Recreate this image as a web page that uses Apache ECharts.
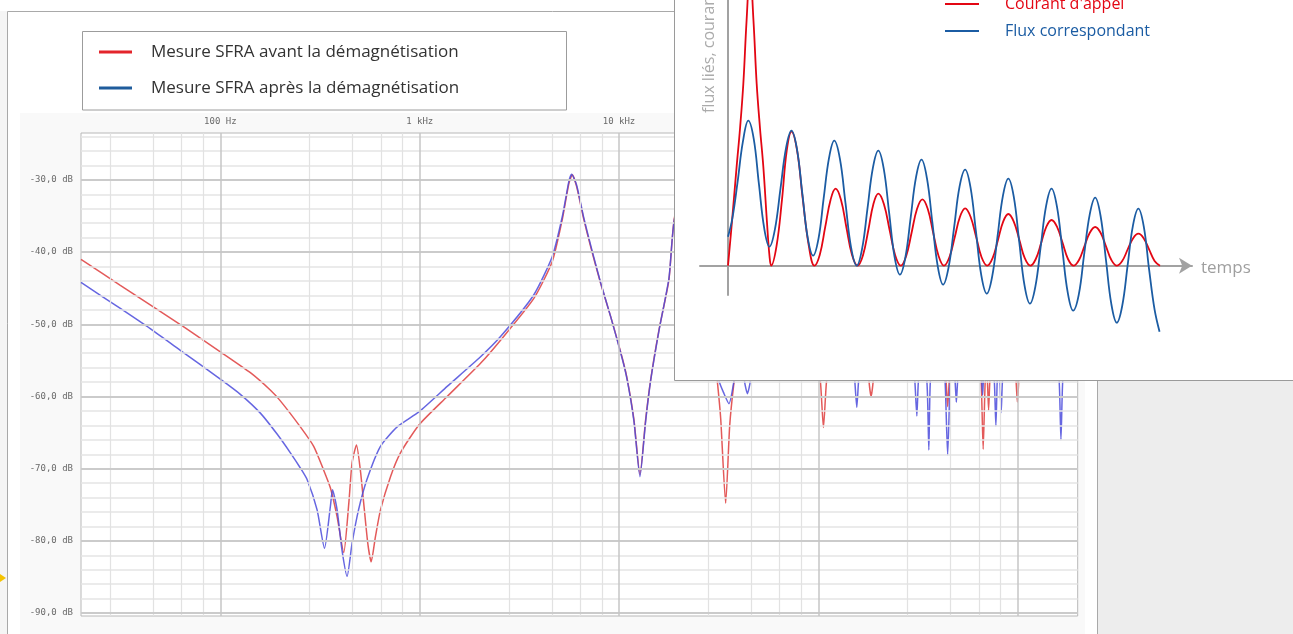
<!DOCTYPE html>
<html>
<head>
<meta charset="utf-8">
<script src="https://cdn.jsdelivr.net/npm/echarts@6/dist/echarts.min.js"></script>
<style>
  html, body { margin: 0; padding: 0; background: #fff; }
  #chart { width: 1293px; height: 634px; }
</style>
</head>
<body>
<div id="chart"></div>
<script>
// SFRA magnitude (frequency in Hz, level in dB) before demagnetisation
const sfraAvant = [
  [20,-41.0],[31.5,-44.6],[44.5,-47.3],[66.7,-50.5],[100,-53.8],[141.5,-56.7],[178,-59.1],[200,-60.6],
  [252,-64.2],[294,-66.9],[330,-70.2],[357,-72.7],[385,-76.6],[416,-81.6],[441,-74.8],[458,-69.2],
  [482,-66.7],[504,-70.2],[524,-74.8],[549,-80.3],[571,-82.9],[600,-79.4],[636,-75.7],[714,-71.1],
  [801,-67.8],[994,-63.9],[1374,-60.0],[2020,-55.4],[2545,-52.2],[3740,-46.4],[4626,-41.3],[5192,-35.5],
  [5604,-30.5],[5830,-29.3],[6126,-30.9],[6664,-35.5],[7342,-40.1],[8083,-44.3],[9074,-48.9],[10390,-54.7],
  [11010,-57.7],[11880,-63.2],[12735,-70.8],[13604,-63.2],[14411,-57.7],[15862,-50.8],[17806,-43.8],[19013,-35.1],
  [21594,-32.5],[24809,-38.0],[27538,-46.0],[29512,-52.0],[31160,-58.0],[32360,-63.0],[34280,-74.8],[35920,-64.0],
  [37750,-58.0],[40780,-51.0],[51380,-46.0],[72680,-45.0],[93740,-50.0],[102450,-58.0],[106070,-64.3],[109810,-58.0],
  [119500,-50.0],[145460,-48.0],[171000,-50.0],[179700,-58.0],[183900,-60.0],[188200,-58.0],[198700,-50.0],[290970,-47.0],
  [420300,-51.0],[437700,-58.0],[445300,-61.4],[453100,-58.0],[471800,-51.0],[624200,-51.0],[655900,-58.0],[671200,-67.3],
  [686900,-58.0],[699700,-56.0],[714500,-61.9],[724400,-58.0],[759600,-51.0],[933000,-51.0],[982000,-58.0],[996600,-60.8],
  [1011600,-58.0],[1059500,-51.0],[2000000,-50.0]
];

// SFRA magnitude after demagnetisation
const sfraApres = [
  [20,-44.2],[31.5,-47.8],[44.5,-50.6],[63,-53.6],[100,-57.6],[126,-59.7],[158.8,-62.3],[192.6,-65.2],
  [224.6,-67.8],[252,-69.9],[272.4,-71.5],[305.8,-75.7],[333.1,-81.0],[356.6,-75.2],[365.3,-72.9],
  [385.3,-75.7],[407.3,-81.2],[432.5,-84.9],[458.2,-80.3],[493.5,-75.7],[543.8,-71.5],[635.8,-66.9],[771.2,-64.2],
  [994,-62.1],[1374,-58.6],[2020,-54.5],[2545,-51.7],[3740,-45.9],[4626,-40.6],[5192,-35.1],[5604,-30.2],
  [5783,-29.2],[6126,-30.7],[6664,-35.3],[7342,-39.9],[8083,-44.2],[9074,-48.9],[10390,-54.8],[11010,-57.8],
  [11880,-63.4],[12735,-71.1],[13604,-63.4],[14411,-57.8],[15862,-50.9],[17806,-43.6],[19013,-35.3],[21594,-32.8],
  [24809,-38.5],[28180,-47.0],[29512,-51.0],[31730,-57.8],[33510,-59.5],[35620,-61.0],[37750,-57.8],[39850,-53.0],
  [41260,-53.0],[42560,-57.8],[44070,-59.6],[45620,-57.8],[47400,-52.0],[72680,-46.0],[145460,-50.0],[152500,-58.0],
  [155900,-61.5],[158950,-58.0],[167100,-50.0],[244700,-47.0],[290970,-51.0],[305100,-58.0],[311900,-62.7],[317400,-58.0],
  [329700,-54.0],[350500,-58.0],[358300,-67.4],[364500,-58.0],[387600,-52.0],[415500,-52.0],[432500,-58.0],[445300,-68.1],
  [458300,-58.0],[471800,-54.0],[485600,-58.0],[492300,-60.8],[499300,-58.0],[529700,-50.0],[631400,-51.0],[659000,-57.5],
  [666600,-59.8],[674300,-57.5],[708700,-53.0],[733800,-52.0],[763900,-58.0],[777400,-64.1],[789100,-58.0],[803000,-55.0],
  [815100,-58.0],[826400,-62.2],[837900,-58.0],[882700,-51.0],[1165000,-48.0],[1537000,-51.0],[1616000,-58.0],[1648000,-66.0],
  [1681000,-58.0],[1766000,-51.0],[2000000,-50.0]
];

// Inrush current and corresponding flux (time in periods, arbitrary amplitude)
const courantAppel = [
  [0,0],[0.1,0.48],[0.2,0.99],[0.28,1.38],[0.355,1.82],[0.43,2.45],[0.51,2.95],[0.59,2.45],[0.664,1.82],
  [0.74,1.38],[0.818,0.99],[0.9,0.45],[0.96,0.1],[1.0,0],
  [1.125,0.2],[1.25,0.66],[1.36,1.15],[1.47,1.34],[1.6,1.15],[1.73,0.67],[1.87,0.2],[2,0],
  [2.125,0.11],[2.25,0.385],[2.375,0.66],[2.49,0.77],[2.615,0.66],[2.74,0.385],[2.87,0.11],[3,0],
  [3.125,0.105],[3.25,0.36],[3.365,0.615],[3.48,0.72],[3.61,0.615],[3.74,0.36],[3.87,0.105],[4,0],
  [4.125,0.097],[4.25,0.33],[4.375,0.567],[4.5,0.664],[4.625,0.567],[4.75,0.33],[4.875,0.097],[5,0],
  [5.125,0.084],[5.25,0.287],[5.37,0.49],[5.49,0.574],[5.615,0.49],[5.745,0.287],[5.87,0.084],[6,0],
  [6.125,0.075],[6.25,0.258],[6.37,0.441],[6.49,0.517],[6.615,0.441],[6.745,0.258],[6.87,0.075],[7,0],
  [7.125,0.067],[7.25,0.228],[7.37,0.39],[7.49,0.457],[7.615,0.39],[7.745,0.228],[7.87,0.067],[8,0],
  [8.125,0.057],[8.25,0.194],[8.375,0.33],[8.5,0.387],[8.625,0.33],[8.75,0.194],[8.875,0.057],[9,0],
  [9.125,0.047],[9.25,0.16],[9.375,0.273],[9.5,0.32],[9.625,0.273],[9.75,0.16],[9.875,0.047],[10,0]
];
const fluxCorrespondant = [
  [0,0.29],[0.1,0.47],[0.22,0.83],[0.345,1.24],[0.47,1.45],[0.595,1.27],[0.715,0.82],[0.84,0.37],[0.96,0.19],
  [1.085,0.36],[1.215,0.77],[1.345,1.18],[1.47,1.35],[1.595,1.17],[1.72,0.725],[1.845,0.28],[1.97,0.1],
  [2.095,0.27],[2.215,0.675],[2.34,1.08],[2.46,1.25],[2.59,1.07],[2.72,0.625],[2.85,0.18],[2.98,0],
  [3.105,0.17],[3.23,0.575],[3.355,0.98],[3.48,1.15],[3.605,0.97],[3.73,0.53],[3.855,0.09],[3.98,-0.09],
  [4.105,0.08],[4.23,0.485],[4.355,0.89],[4.48,1.06],[4.605,0.875],[4.73,0.435],[4.855,-0.005],[4.98,-0.19],
  [5.105,-0.02],[5.235,0.385],[5.36,0.79],[5.49,0.96],[5.615,0.78],[5.74,0.34],[5.865,-0.1],[5.99,-0.28],
  [6.115,-0.11],[6.24,0.295],[6.365,0.7],[6.49,0.87],[6.615,0.69],[6.74,0.245],[6.865,-0.2],[6.99,-0.38],
  [7.115,-0.21],[7.24,0.195],[7.365,0.6],[7.49,0.77],[7.615,0.59],[7.74,0.16],[7.865,-0.27],[7.99,-0.45],
  [8.12,-0.29],[8.245,0.115],[8.375,0.515],[8.5,0.68],[8.625,0.497],[8.75,0.055],[8.875,-0.387],[9.0,-0.57],
  [9.125,-0.403],[9.25,0],[9.375,0.403],[9.5,0.57],[9.625,0.39],[9.75,-0.045],[9.875,-0.44],[9.99,-0.66]
];

// Axis ticks and grid lines
const dbTicks = [-90, -80, -70, -60, -50, -40, -30];
const dbMinor = [-88,-86,-84,-82,-78,-76,-74,-72,-68,-66,-64,-62,-58,-56,-54,-52,-48,-46,-44,-42,-38,-36,-34,-32,-28,-26,-24];
const freqMajor = [100, 1000, 10000, 100000, 1000000];
const freqMinor = [28,46,64,82, 280,460,640,820, 2800,4600,6400,8200, 28000,46000,64000,82000, 280000,460000,640000,820000];

const nameAvant = 'Mesure SFRA avant la démagnétisation';
const nameApres = 'Mesure SFRA après la démagnétisation';
const nameCourant = "Courant d'appel";
const nameFlux = 'Flux correspondant';

const gridLineData = []
  .concat(dbMinor.map(v => ({ yAxis: v, lineStyle: { color: '#e4e4e4', width: 1.5, type: 'solid' } })))
  .concat(freqMinor.map(v => ({ xAxis: v, lineStyle: { color: '#e2e2e2', width: 1.2, type: 'solid' } })))
  .concat(dbTicks.map(v => ({ yAxis: v, lineStyle: { color: '#cbcbcb', width: 2, type: 'solid' } })))
  .concat(freqMajor.map(v => ({ xAxis: v, lineStyle: { color: '#c6c6c6', width: 1.5, type: 'solid' } })));

const mono = 'DejaVu Sans Mono';
const sans = 'Open Sans';
const insetGrey = '#a2a2a2';

const chart = echarts.init(document.getElementById('chart'), null, { renderer: 'canvas' });

chart.setOption({
  backgroundColor: '#ffffff',
  animation: false,
  grid: [
    { left: 81, top: 133, width: 996.7, height: 483, show: true, backgroundColor: '#ffffff', borderColor: '#b8b8b8', borderWidth: 1 },
    { left: 700, top: 0, width: 492, height: 295 }
  ],
  xAxis: [
    {
      gridIndex: 0, type: 'log', logBase: 10, min: 20, max: 2000000, position: 'top',
      axisLine: { show: false }, axisTick: { show: false }, splitLine: { show: false },
      axisLabel: {
        showMinLabel: false, showMaxLabel: false, margin: 7,
        fontFamily: mono, fontSize: 9, color: '#6a6a6a',
        formatter: v => v >= 1e6 ? Math.round(v / 1e6) + ' MHz' : v >= 1000 ? Math.round(v / 1000) + ' kHz' : Math.round(v) + ' Hz'
      }
    },
    {
      gridIndex: 1, type: 'value', min: -0.648, max: 10.741, z: 20,
      axisLine: { show: true, onZero: true, symbol: ['none', 'arrow'], symbolSize: [12, 13], lineStyle: { color: insetGrey, width: 2 } },
      axisTick: { show: false }, axisLabel: { show: false }, splitLine: { show: false }
    }
  ],
  yAxis: [
    {
      gridIndex: 0, type: 'value', min: -90.4, max: -23.5,
      axisLine: { show: false }, axisTick: { show: false }, splitLine: { show: false },
      axisLabel: {
        customValues: dbTicks, margin: 8, fontFamily: mono, fontSize: 9, color: '#6a6a6a',
        formatter: v => v.toFixed(1).replace('.', ',') + ' dB'
      }
    },
    {
      gridIndex: 1, type: 'value', min: -0.293, max: 2.657, z: 20,
      axisLine: { show: true, onZero: true, lineStyle: { color: insetGrey, width: 2 } },
      axisTick: { show: false }, axisLabel: { show: false }, splitLine: { show: false }
    }
  ],
  legend: [
    {
      data: [
        { name: nameAvant, itemStyle: { color: '#e3242b' } },
        { name: nameApres, itemStyle: { color: '#1f5c9c' } }
      ],
      orient: 'vertical', left: 99, top: 40, padding: 0, itemGap: 12,
      itemWidth: 33, itemHeight: 3, icon: 'rect', selectedMode: false,
      textStyle: { fontFamily: sans, fontSize: 17, color: '#333333', padding: [0, 0, 0, 14], lineHeight: 24 }
    },
    {
      data: [
        { name: nameCourant, itemStyle: { color: '#e30613' }, textStyle: { color: '#e30613' } },
        { name: nameFlux, itemStyle: { color: '#1b5ca3' }, textStyle: { color: '#1b5ca3' } }
      ],
      orient: 'vertical', left: 945, top: -7, padding: 0, itemGap: 5, z: 20,
      itemWidth: 34, itemHeight: 2, icon: 'rect', selectedMode: false,
      textStyle: { fontFamily: sans, fontSize: 16, padding: [0, 0, 0, 21], lineHeight: 22 }
    }
  ],
  graphic: [
    // page and frame
    { type: 'rect', z: -1, silent: true, shape: { x: 0, y: 11, width: 7, height: 640 }, style: { fill: '#f5f5f5' } },
    { type: 'rect', z: -1, silent: true, shape: { x: 20, y: 113, width: 1065, height: 530 }, style: { fill: '#f9f9f9' } },
    { type: 'rect', z: -1, silent: true, shape: { x: 1098, y: 0, width: 200, height: 640 }, style: { fill: '#ededed' } },
    { type: 'polyline', z: 1, silent: true, shape: { points: [[7.5, 640], [7.5, 11.5], [1097.5, 11.5], [1097.5, 640]] }, style: { stroke: '#a9a9a9', lineWidth: 1, fill: null } },
    // legend frame
    { type: 'rect', z: 1, silent: true, shape: { x: 82.5, y: 31.5, width: 484, height: 78.5 }, style: { fill: '#ffffff', stroke: '#9c9c9c', lineWidth: 1 } },
    // inset panel
    { type: 'rect', z: 10, silent: true, shape: { x: 674.5, y: -5, width: 700, height: 385.5 }, style: { fill: '#ffffff', stroke: '#9a9a9a', lineWidth: 1 } },
    { type: 'text', z: 20, silent: true, x: 709, y: 113, rotation: Math.PI / 2,
      style: { text: 'flux liés, courant', fill: '#ababab', font: '16px "Open Sans"', textAlign: 'left', textVerticalAlign: 'middle' } },
    { type: 'text', z: 20, silent: true, x: 1201, y: 268,
      style: { text: 'temps', fill: '#9f9f9f', font: '17px "Open Sans"', textAlign: 'left', textVerticalAlign: 'middle' } },
    // small yellow pointer at the left edge
    { type: 'polygon', z: 20, silent: true, shape: { points: [[0, 574], [6, 578], [0, 582]] }, style: { fill: '#f5c300' } }
  ],
  series: [
    {
      name: 'grille', type: 'line', xAxisIndex: 0, yAxisIndex: 0, data: [], z: 1, silent: true,
      markLine: { silent: true, symbol: ['none', 'none'], label: { show: false }, animation: false, data: gridLineData }
    },
    {
      name: nameAvant, type: 'line', xAxisIndex: 0, yAxisIndex: 0, data: sfraAvant, z: 3,
      showSymbol: false, smooth: 0.2, color: '#e04848',
      lineStyle: { color: '#e04848', width: 1.5, opacity: 0.9 }
    },
    {
      name: nameApres, type: 'line', xAxisIndex: 0, yAxisIndex: 0, data: sfraApres, z: 4,
      showSymbol: false, smooth: 0.2, color: '#4b4bdc',
      lineStyle: { color: '#4b4bdc', width: 1.5, opacity: 0.85 }
    },
    {
      name: nameCourant, type: 'line', xAxisIndex: 1, yAxisIndex: 1, data: courantAppel, z: 20, clip: false,
      showSymbol: false, smooth: 0.4, color: '#e30613',
      lineStyle: { color: '#e30613', width: 1.8 }
    },
    {
      name: nameFlux, type: 'line', xAxisIndex: 1, yAxisIndex: 1, data: fluxCorrespondant, z: 21, clip: false,
      showSymbol: false, smooth: 0.4, color: '#1b5ca3',
      lineStyle: { color: '#1b5ca3', width: 1.8 }
    }
  ]
});
</script>
</body>
</html>
